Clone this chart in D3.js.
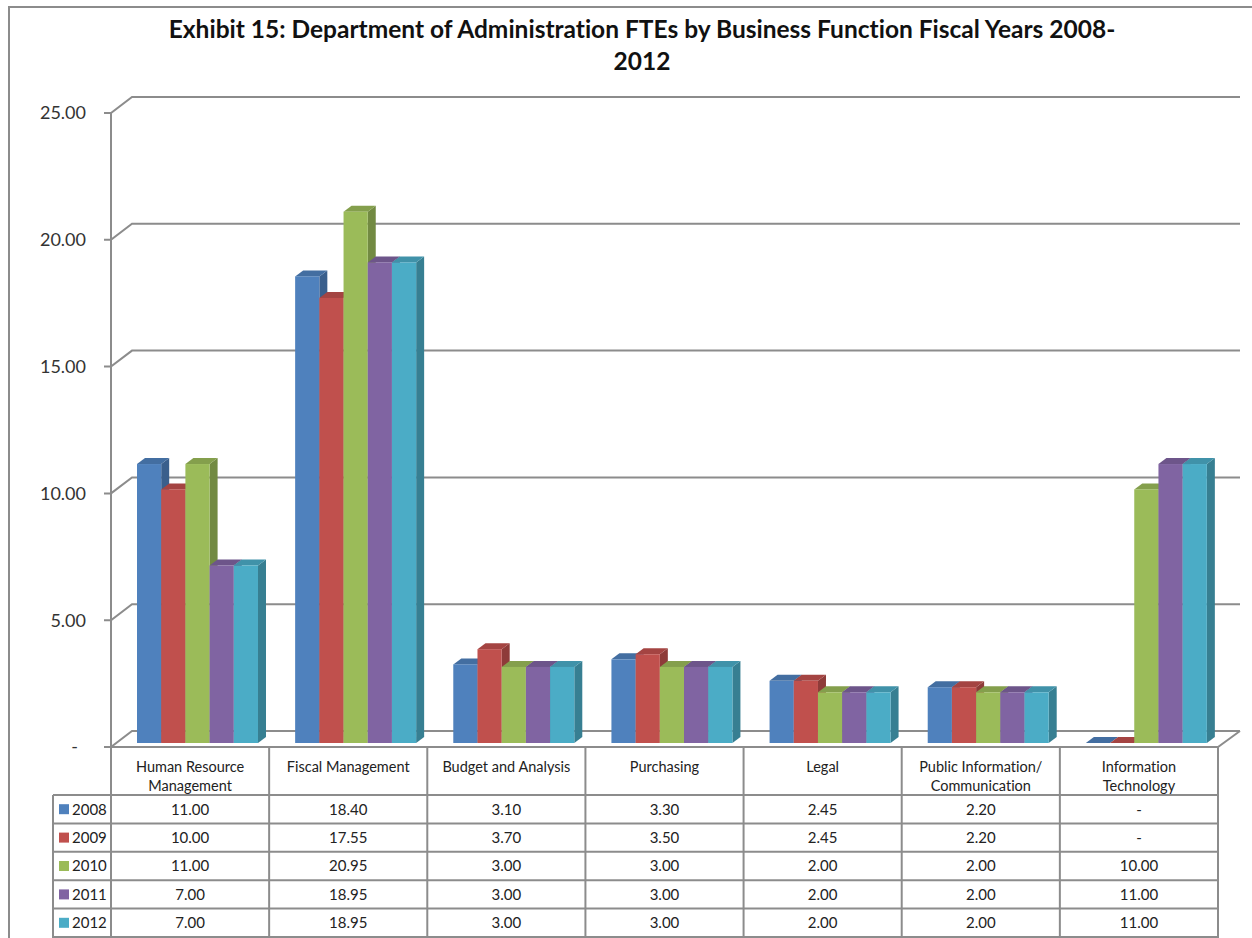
<!DOCTYPE html>
<html>
<head>
<meta charset="utf-8">
<script src="https://cdn.jsdelivr.net/npm/d3@7"></script>
<style>
  body { margin: 0; background: #fff; }
  text { font-family: Lato, "Open Sans", sans-serif; font-variant-ligatures: none; font-feature-settings: "liga" 0; }
</style>
</head>
<body>
<div id="chart"></div>
<script>
// chart data
const categories = ["Human Resource Management", "Fiscal Management", "Budget and Analysis",
  "Purchasing", "Legal", "Public Information/ Communication", "Information Technology"];
const categoryLines = [["Human Resource", "Management"], ["Fiscal Management"], ["Budget and Analysis"],
  ["Purchasing"], ["Legal"], ["Public Information/", "Communication"], ["Information", "Technology"]];
const years = ["2008", "2009", "2010", "2011", "2012"];
const fte2008 = [11.00, 18.40, 3.10, 3.30, 2.45, 2.20, 0];
const fte2009 = [10.00, 17.55, 3.70, 3.50, 2.45, 2.20, 0];
const fte2010 = [11.00, 20.95, 3.00, 3.00, 2.00, 2.00, 10.00];
const fte2011 = [7.00, 18.95, 3.00, 3.00, 2.00, 2.00, 11.00];
const fte2012 = [7.00, 18.95, 3.00, 3.00, 2.00, 2.00, 11.00];
const yTicks = [0, 5, 10, 15, 20, 25];
const colors = ["#4F81BD", "#C0504D", "#9BBB59", "#8064A2", "#4BACC6"];

const series = years.map((y, i) => ({year: y, values: [fte2008, fte2009, fte2010, fte2011, fte2012][i], color: colors[i]}));

const W = 1252, H = 938;
const svg = d3.select("#chart").append("svg").attr("width", W).attr("height", H);
const grid = "#8c8c8c";
const fmt = v => v === 0 ? "-" : d3.format(".2f")(v);

// outer chart border (right/bottom lie outside the picture)
svg.append("path").attr("d", `M9,${H + 5}V7H${W + 5}`)
  .attr("fill", "none").attr("stroke", grid).attr("stroke-width", 2);

// title
const title = svg.append("text").attr("x", 642).attr("text-anchor", "middle")
  .attr("font-weight", "bold").attr("font-size", 24.5).attr("fill", "#111");
title.append("tspan").attr("x", 642).attr("y", 38).text("Exhibit 15: Department of Administration FTEs by Business Function Fiscal Years 2008-");
title.append("tspan").attr("x", 642).attr("y", 70).text("2012");

// scales
const x = d3.scaleBand().domain(categories).range([111, 1218]);
const xs = d3.scaleBand().domain(years).range([26, 147]);
const yWall = d3.scaleLinear().domain([0, 25]).range([747, 113]);
const yBar = d3.scaleLinear().domain([0, 25]).range([743, 109]);
const wdx = 21, wdy = 16;   // wall depth offset
const bdx = 8, bdy = 6;     // column depth offset

// gridlines with left-wall diagonals
const g = svg.append("g").attr("fill", "none").attr("stroke", grid).attr("stroke-width", 2);
yTicks.forEach(t => {
  const yf = yWall(t);
  g.append("path").attr("d", `M104,${yf}H111L${111 + wdx},${yf - wdy}H1240`);
});
// floor
g.append("path").attr("d", `M111,${yWall(0)}H1218L1240,${yWall(0) - wdy}`);
// vertical axis, continuing into the data table
g.append("line").attr("x1", 111).attr("x2", 111).attr("y1", yWall(25)).attr("y2", H);

// axis labels
svg.append("g").selectAll("text").data(yTicks).join("text")
  .attr("x", t => t === 0 ? 78 : 86).attr("y", t => yWall(t)).attr("dy", "0.35em")
  .attr("text-anchor", "end").attr("font-size", 18).attr("fill", "#333")
  .text(t => t === 0 ? "-" : d3.format(".2f")(t));

// 3D columns
const bars = svg.append("g");
categories.forEach((c, ci) => {
  series.forEach(s => {
    const v = s.values[ci];
    const x0 = x(c) + xs(s.year), x1 = x0 + xs.bandwidth();
    const yt = yBar(v), yb = yBar(0);
    const col = d3.color(s.color);
    const top = col.darker(0.45), side = col.darker(0.85);
    if (v > 0) {
      bars.append("path").attr("fill", side)
        .attr("d", `M${x1},${yt}L${x1 + bdx},${yt - bdy}V${yb - bdy}L${x1},${yb}Z`);
    }
    bars.append("path").attr("fill", top)
      .attr("d", `M${x0},${yt}L${x0 + bdx},${yt - bdy}H${x1 + bdx}L${x1},${yt}Z`);
    if (v > 0) {
      bars.append("rect").attr("x", x0).attr("y", yt).attr("width", x1 - x0).attr("height", yb - yt)
        .attr("fill", s.color);
    }
  });
});

// data table
const tableTop = yWall(0), headH = 48, rowH = 28.4, legendLeft = 53;
const tbl = svg.append("g");
const tg = tbl.append("g").attr("fill", "none").attr("stroke", grid).attr("stroke-width", 2);
categories.forEach(c => {
  const xr = x(c) + x.bandwidth();
  tg.append("line").attr("x1", xr).attr("x2", xr).attr("y1", tableTop).attr("y2", H);
});
tg.append("line").attr("x1", legendLeft).attr("x2", legendLeft).attr("y1", tableTop + headH).attr("y2", H);
series.forEach((s, i) => {
  const yy = tableTop + headH + i * rowH;
  tg.append("line").attr("x1", legendLeft).attr("x2", 1218).attr("y1", yy).attr("y2", yy);
});
tg.append("line").attr("x1", legendLeft).attr("x2", 1218).attr("y1", tableTop + headH + 5 * rowH).attr("y2", tableTop + headH + 5 * rowH);

// header labels
categories.forEach((c, ci) => {
  const t = tbl.append("text").attr("text-anchor", "middle").attr("font-size", 14.5).attr("fill", "#222");
  categoryLines[ci].forEach((line, li) => {
    t.append("tspan").attr("x", x(c) + x.bandwidth() / 2).attr("y", tableTop + 25 + li * 19).text(line);
  });
});

// rows
series.forEach((s, i) => {
  const cy = tableTop + headH + i * rowH + rowH / 2;
  tbl.append("rect").attr("x", 59).attr("y", cy - 5).attr("width", 10).attr("height", 10).attr("fill", s.color);
  tbl.append("text").attr("x", 72).attr("y", cy).attr("dy", "0.36em").attr("font-size", 15).attr("fill", "#222").text(s.year);
  tbl.append("g").selectAll("text").data(s.values).join("text")
    .attr("x", (v, ci) => x(categories[ci]) + x.bandwidth() / 2).attr("y", cy).attr("dy", "0.36em")
    .attr("text-anchor", "middle").attr("font-size", 15).attr("fill", "#222")
    .text(fmt);
});
</script>
</body>
</html>
